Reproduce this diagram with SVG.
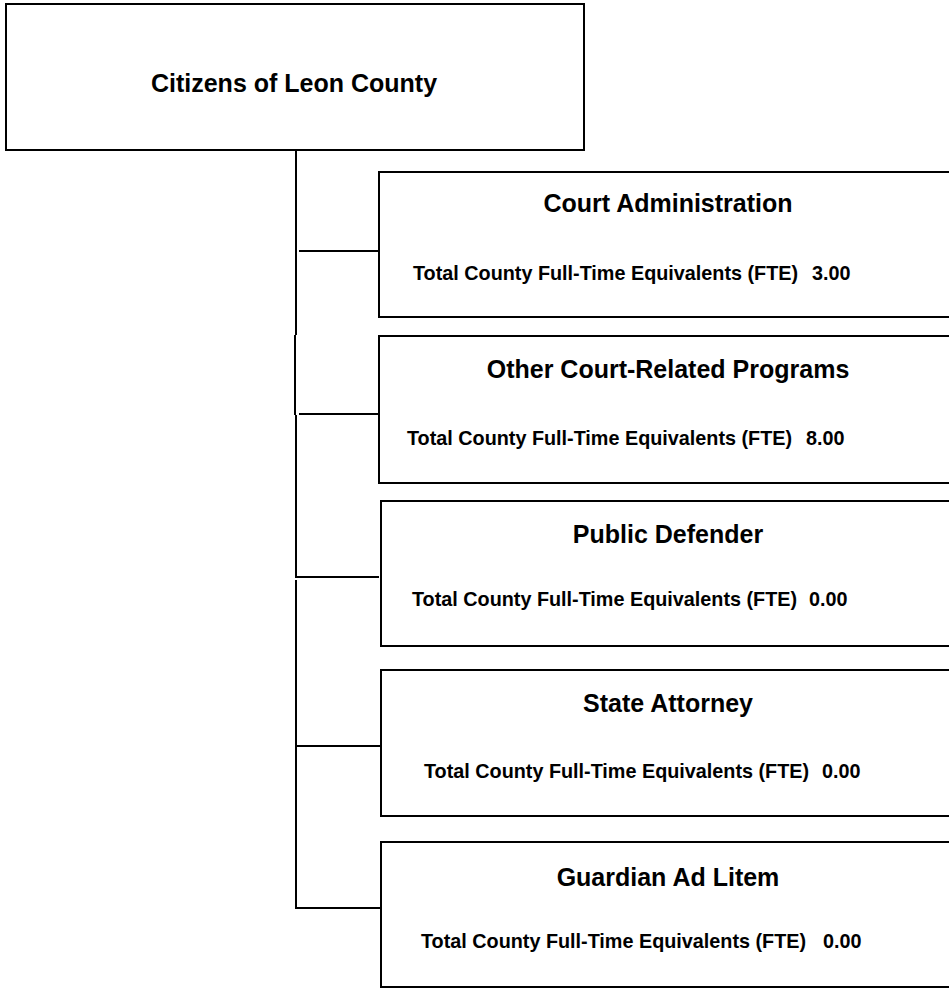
<svg xmlns="http://www.w3.org/2000/svg" width="949" height="988" viewBox="0 0 949 988">
<style>
.box{fill:#fff;stroke:#000;stroke-width:2}
.ln{fill:none;stroke:#000;stroke-width:2}
.t{font-family:"Liberation Sans",Arial,sans-serif;font-weight:bold;font-size:25px;fill:#000;text-anchor:middle}
.f{font-family:"Liberation Sans",Arial,sans-serif;font-weight:bold;font-size:19.8px;fill:#000}
</style>
<rect width="949" height="988" fill="#fff"/>
<g id="connectors">
<path class="ln" d="M296,150 V335"/>
<path class="ln" d="M295,335 V415"/>
<path class="ln" d="M296,415 V577 H379"/>
<path class="ln" d="M296,580 V908 H381"/>
<path class="ln" d="M299,251 H379"/>
<path class="ln" d="M299,414 H379"/>
<path class="ln" d="M296,746 H381"/>
</g>
<g id="citizens">
<rect class="box" x="6" y="4" width="578" height="146"/>
<text class="t" x="294" y="92">Citizens of Leon County</text>
</g>
<g id="court-administration">
<rect class="box" x="379" y="172" width="575" height="145"/>
<text class="t" x="668" y="212">Court Administration</text>
<text class="f" x="413" y="280">Total County Full-Time Equivalents (FTE)</text>
<text class="f" x="812" y="280">3.00</text>
</g>
<g id="other-court-related">
<rect class="box" x="379" y="336" width="575" height="147"/>
<text class="t" x="668" y="378">Other Court-Related Programs</text>
<text class="f" x="407" y="445">Total County Full-Time Equivalents (FTE)</text>
<text class="f" x="806" y="445">8.00</text>
</g>
<g id="public-defender">
<rect class="box" x="381" y="501" width="575" height="145"/>
<text class="t" x="668" y="543">Public Defender</text>
<text class="f" x="412" y="606">Total County Full-Time Equivalents (FTE)</text>
<text class="f" x="809" y="606">0.00</text>
</g>
<g id="state-attorney">
<rect class="box" x="381" y="670" width="575" height="146"/>
<text class="t" x="668" y="712">State Attorney</text>
<text class="f" x="424" y="778">Total County Full-Time Equivalents (FTE)</text>
<text class="f" x="822" y="778">0.00</text>
</g>
<g id="guardian-ad-litem">
<rect class="box" x="381" y="842" width="575" height="145"/>
<text class="t" x="668" y="886">Guardian Ad Litem</text>
<text class="f" x="421" y="948">Total County Full-Time Equivalents (FTE)</text>
<text class="f" x="823" y="948">0.00</text>
</g>
</svg>
